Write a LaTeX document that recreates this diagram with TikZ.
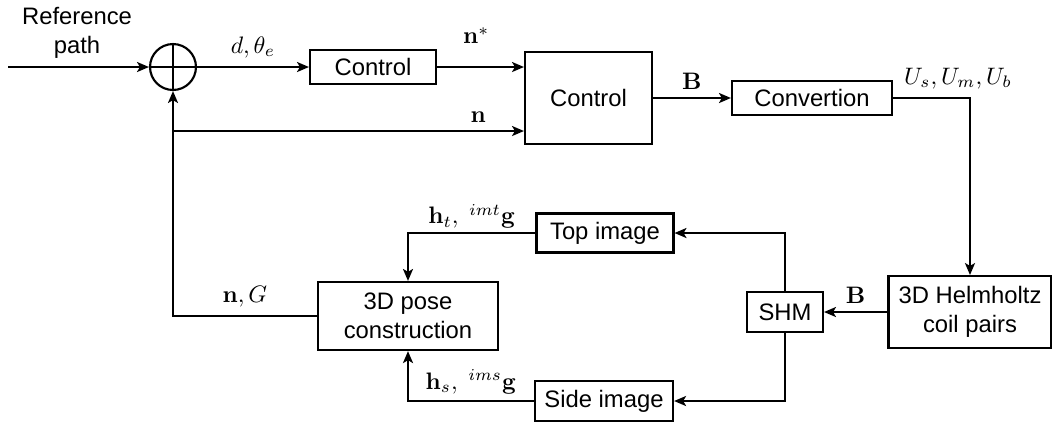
\documentclass[tikz,border=0pt]{standalone}
\usepackage[no-math]{fontspec}
\setmainfont{Liberation Sans}
\usetikzlibrary{arrows.meta}
\begin{document}
\begin{tikzpicture}[x=0.42pt,y=-0.42pt,line width=0.9pt,
		>={Stealth[length=5pt,width=4.2pt,inset=1.2pt]},
		blk/.style={draw,inner sep=1pt,align=center},
		sumnode/.style={draw,circle,inner sep=0pt,minimum size=19.3pt}]
	\useasboundingbox (0,0) rectangle (1052,423);
	\node[sumnode] (sum) at (173,67) {};
	\draw (sum.north) -- (sum.south) (sum.west) -- (sum.east);
	\node[align=center] (ref) at (77,33) {Reference\\path};
	\coordinate (in) at (8,67);
	\coordinate (branch) at (173,131);
	\node[blk,minimum width=52.9pt,minimum height=14.3pt] (ctrlA) at (373,67) {Control};
	\node[blk,minimum width=53.3pt,minimum height=38.6pt] (ctrlB) at (588.5,98) {Control};
	\node[blk,minimum width=67.2pt,minimum height=14.3pt] (conv) at (812,98) {Convertion};
	\node[blk,minimum width=68.5pt,minimum height=30.2pt] (helm) at (970,312) {3D Helmholtz\\coil pairs};
	\node[blk,minimum width=31.9pt,minimum height=16.8pt] (shm) at (785,312) {SHM};
	\node[blk,minimum width=57.5pt,minimum height=16.4pt] (top) at (605,233) {Top image};
	\node[blk,minimum width=58pt,minimum height=16.8pt] (side) at (604,401) {Side image};
	\node[blk,minimum width=75.6pt,minimum height=28.6pt] (pose) at (408,316) {3D pose\\construction};
	\draw[->] (in) -- (sum.west);
	\draw[->] (sum.east) -- (ctrlA.west) node[midway,above]{$d,\theta_e$};
	\draw[->] (ctrlA.east) -- (ctrlA.east -| ctrlB.west) node[pos=0.45,above=6pt]{$\mathbf{n}^*$};
	\draw[->] (branch) -- (branch -| ctrlB.west) node[pos=0.87,above]{$\mathbf{n}$};
	\draw[->] (ctrlB.east) -- (conv.west) node[midway,above]{$\mathbf{B}$};
	\draw[->] (conv.east) -| (helm.north) node[pos=0.5,above,xshift=-5pt]{$U_s,U_m,U_b$};
	\draw[->] (helm.west) -- (shm.east) node[midway,above]{$\mathbf{B}$};
	\draw[->] (shm.north) |- (top.east);
	\draw[->] (shm.south) |- (side.east);
	\draw[->] (top.west) -| (pose.north) node[pos=0.25,above,inner sep=1.5pt]{$\mathbf{h}_t,\ {}^{imt}\mathbf{g}$};
	\draw[->] (side.west) -| (pose.south) node[pos=0.25,above,inner sep=2.5pt]{$\mathbf{h}_s,\ {}^{ims}\mathbf{g}$};
	\draw[->] (pose.west) -| (sum.south) node[pos=0.25,above]{$\mathbf{n},G$};
\end{tikzpicture}
\end{document}
